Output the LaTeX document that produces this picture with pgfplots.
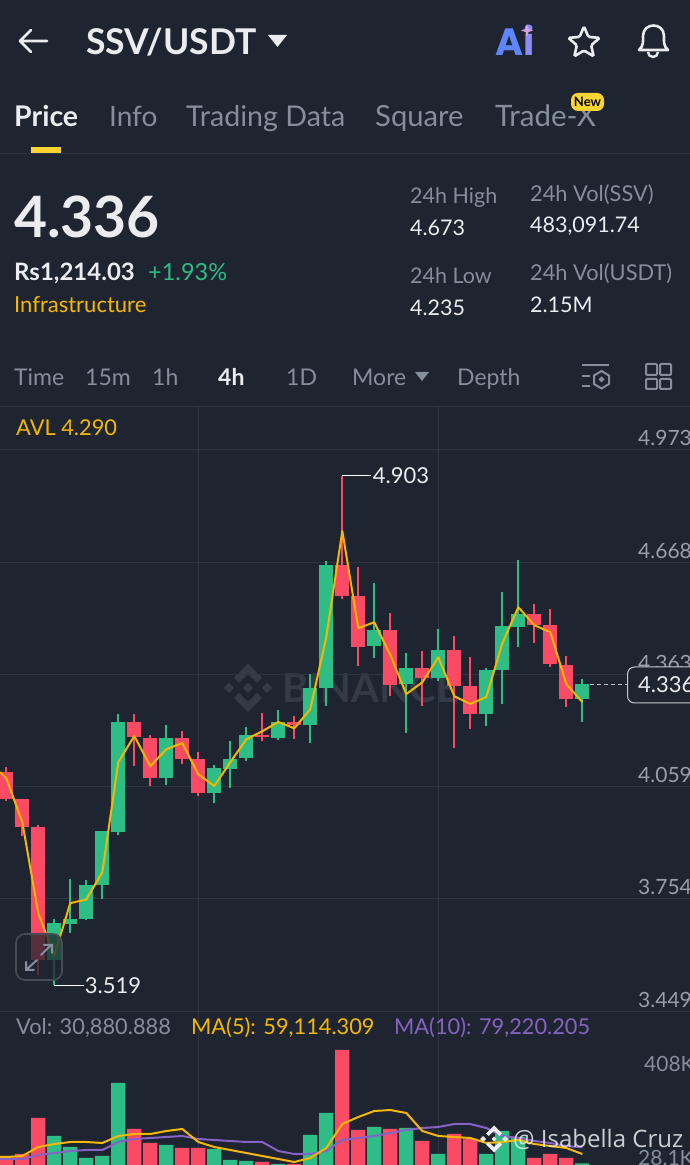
\documentclass[border=0pt]{standalone}
\usepackage{pgfplots}
\pgfplotsset{compat=1.18}
\usepackage{pgfplotstable}
\usepackage{fontspec}
\setmainfont{Lato}
\newfontfamily\wm{Open Sans}
\newfontfamily\aifont{Poppins}
\usetikzlibrary{shapes.geometric}
\definecolor{bg}{HTML}{1F2530}
\definecolor{gridc}{HTML}{2F3540}
\definecolor{up}{HTML}{2EBD85}
\definecolor{dn}{HTML}{FB4A63}
\definecolor{ma}{HTML}{F5B800}
\definecolor{pu}{HTML}{8662C4}
\definecolor{gr}{HTML}{848E9C}
\definecolor{wh}{HTML}{EAECEF}
\definecolor{wmk}{HTML}{353B46}
\definecolor{yel}{HTML}{FCD535}
\definecolor{spark}{HTML}{D9A0E8}
% columns: index, low, body bottom, body top, high
\pgfplotstableread{
i low bot top high
0 4.019 4.024 4.098 4.111
1 3.924 3.948 4.024 4.024
2 3.546 3.587 3.948 3.954
8 4.114 4.193 4.234 4.255
9 4.060 4.081 4.190 4.198
11 4.119 4.133 4.190 4.209
12 4.032 4.041 4.133 4.152
16 4.182 4.193 4.198 4.258
18 4.187 4.225 4.234 4.250
21 4.568 4.576 4.660 4.903
22 4.386 4.437 4.576 4.655
24 4.304 4.334 4.484 4.530
26 4.277 4.353 4.380 4.427
28 4.163 4.332 4.429 4.467
29 4.215 4.255 4.332 4.410
33 4.448 4.497 4.527 4.554
34 4.383 4.391 4.497 4.541
35 4.274 4.296 4.389 4.413
}\redc
\pgfplotstableread{
i low bot top high
3 3.519 3.587 3.687 3.698
4 3.660 3.684 3.698 3.807
5 3.695 3.698 3.791 3.804
6 3.752 3.791 3.937 3.937
7 3.926 3.935 4.234 4.255
10 4.062 4.081 4.190 4.225
13 4.013 4.041 4.109 4.117
14 4.054 4.106 4.133 4.182
15 4.128 4.136 4.198 4.220
17 4.185 4.190 4.234 4.266
19 4.177 4.225 4.326 4.364
20 4.277 4.326 4.660 4.671
23 4.408 4.440 4.484 4.611
25 4.204 4.337 4.380 4.421
27 4.345 4.353 4.429 4.486
30 4.223 4.255 4.375 4.380
31 4.283 4.375 4.495 4.587
32 4.437 4.492 4.527 4.674
36 4.234 4.296 4.336 4.350
}\greenc
\pgfplotstableread{
i v
-0.39 4.098
0 4.081
1 3.962
2 3.714
3 3.600
4 3.742
5 3.752
6 3.826
7 4.125
8 4.196
9 4.114
10 4.160
11 4.177
12 4.092
13 4.060
14 4.125
15 4.187
16 4.209
17 4.234
18 4.217
19 4.269
20 4.465
21 4.753
22 4.489
23 4.505
24 4.416
25 4.310
26 4.342
27 4.410
28 4.304
29 4.283
30 4.302
31 4.448
32 4.546
33 4.497
34 4.478
35 4.337
36 4.288
}\priceline
\pgfplotstableread{
i v
0 53.1
1 59.1
2 167.1
8 134.1
9 92.1
11 77.1
12 77.1
16 35.1
18 29.1
21 371.1
22 131.1
24 134.1
26 98.1
28 119.1
29 104.1
33 47.1
34 59.1
35 47.1
}\redv
\pgfplotstableread{
i v
3 113.1
4 80.1
5 47.1
6 53.1
7 272.1
10 86.1
13 74.1
14 41.1
15 38.1
17 29.1
19 116.1
20 182.1
23 140.1
25 137.1
27 59.1
30 59.1
31 128.1
32 110.1
36 30.88
}\greenv
\pgfplotstableread{
i five ten
-0.39 50.1 44.1
0 50.1 44.1
1 53.1 44.1
2 80.1 56.1
3 89.1 62.1
4 95.1 68.1
5 95.1 71.1
6 92.1 71.1
7 113.1 95.1
8 119.1 104.1
9 119.1 107.1
10 128.1 110.1
11 134.1 113.1
12 95.1 104.1
13 80.1 101.1
14 71.1 98.1
15 62.1 95.1
16 53.1 95.1
17 44.1 68.1
18 35.1 59.1
19 47.1 59.1
20 77.1 68.1
21 149.1 101.1
22 170.1 107.1
23 188.1 113.1
24 191.1 122.1
25 182.1 131.1
26 128.1 137.1
27 113.1 140.1
28 110.1 149.1
29 107.1 149.1
30 92.1 137.1
31 95.1 113.1
32 101.1 107.1
33 89.1 98.1
34 83.1 92.1
35 77.1 83.1
36 59.114 79.22
}\volma
\pgfplotsset{
  candle/.style n args={2}{draw=none,mark=none,forget plot,
    error bars/.cd,y dir=plus,y explicit,error mark=none,
    error bar style={line width=#2,draw=#1}},
  panel/.style={scale only axis,width=690pt,anchor=south west,
    xmin=-0.39375,xmax=42.73125,
    axis line style={draw=none},tick style={draw=none},
    xtick={12,27},xticklabels={},
    grid style={gridc,line width=1pt},
    xmajorgrids},
}
% helpers in reference pixels: x, baseline y, size, colour, text
\newcommand\T[5]{\node[anchor=base west,inner sep=0pt,text=#4,font=\fontsize{#3}{#3}\selectfont] at (#1,1165-#2) {#5};}
\newcommand\B[5]{\node[anchor=base west,inner sep=0pt,text=#4,font=\fontsize{#3}{#3}\selectfont\bfseries] at (#1,1165-#2) {#5};}
\begin{document}
\begin{tikzpicture}[x=1pt,y=1pt]
\path[use as bounding box] (0,0) rectangle (690,1165);
\clip (0,0) rectangle (690,1165);
\fill[bg] (0,0) rectangle (690,1165);
% watermark under the chart
\begin{scope}[shift={(248,477)},fill=wmk]
\fill (0,5)--(5,0)--(0,-5)--(-5,0)--cycle;
\fill (-24,0)--(-19,5)--(-14,0)--(-19,-5)--cycle;
\fill (24,0)--(19,5)--(14,0)--(19,-5)--cycle;
\fill (0,24)--(14,10)--(9,5)--(0,14)--(-9,5)--(-14,10)--cycle;
\fill (0,-24)--(14,-10)--(9,-5)--(0,-14)--(-9,-5)--(-14,-10)--cycle;
\end{scope}
\B{282}{703}{40}{wmk}{BINANCE}
% header
\draw[wh,line width=2.6pt,line cap=round,line join=round] (47,1165-41)--(20,1165-41) (31,1165-30)--(20,1165-41)--(31,1165-52);
\B{86}{55}{35.5}{wh}{SSV/USDT}
\fill[wh] (268,1165-35)--(287,1165-35)--(277.5,1165-47)--cycle;
\node[anchor=base west,inner sep=0pt,font=\aifont\fontsize{38}{38}\selectfont\bfseries] at (495,1165-56) {\textcolor[HTML]{5F86FF}{A}\textcolor[HTML]{8F8BF5}{i}};
\fill[spark] (527,1165-24)--(528.5,1165-29)--(533,1165-30.5)--(528.5,1165-32)--(527,1165-37)--(525.5,1165-32)--(521,1165-30.5)--(525.5,1165-29)--cycle;
\node[star,star points=5,star point ratio=2.2,draw=wh,line width=2.6pt,rounded corners=1.5pt,minimum size=33pt,inner sep=0pt] at (584,1165-43) {};
\draw[wh,line width=2.6pt,line join=round,line cap=round] (639,1165-50) .. controls (644,1165-46) and (643,1165-40) .. (643,1165-36) .. controls (643,1165-22) and (664,1165-22) .. (664,1165-36) .. controls (664,1165-40) and (663,1165-46) .. (668,1165-50) -- cycle;
\draw[wh,line width=2.4pt] (648,1165-52) arc[start angle=180,end angle=360,radius=5];
% tabs
\B{14}{127}{28.5}{wh}{Price}
\T{109}{127}{28}{gr}{Info}
\T{186}{127}{28.6}{gr}{Trading Data}
\T{375}{127}{29.2}{gr}{Square}
\T{495}{127}{29.5}{gr}{Trade-X}
\fill[yel,rounded corners=7pt] (571,1165-93) rectangle (604,1165-111);
\node[text=black,inner sep=0pt,font=\fontsize{13}{13}\selectfont\bfseries] at (587.5,1165-102) {New};
\fill[yel] (31,1165-147) rectangle (61,1165-153);
\draw[gridc,line width=1pt] (0,1165-153.5)--(690,1165-153.5);
% quote block
\B{14}{238}{57}{wh}{4.336}
\B{14}{281}{24}{wh}{Rs1,214.03}
\T{148}{281}{23.5}{up}{+1.93\%}
\T{14}{313}{22}{ma}{Infrastructure}
\T{410}{204}{21.5}{gr}{24h High}
\T{410}{236}{21.5}{wh}{4.673}
\T{530}{202}{21.8}{gr}{24h Vol(SSV)}
\T{530}{233}{21.5}{wh}{483,091.74}
\T{410}{284}{21.5}{gr}{24h Low}
\T{410}{316}{21.5}{wh}{4.235}
\T{530}{281}{21.8}{gr}{24h Vol(USDT)}
\T{530}{313}{21.5}{wh}{2.15M}
% interval bar
\T{14}{386}{23}{gr}{Time}
\T{85}{386}{23}{gr}{15m}
\T{152}{386}{23}{gr}{1h}
\B{218}{386}{23}{wh}{4h}
\T{286}{386}{23}{gr}{1D}
\T{352}{386}{23}{gr}{More}
\fill[gr] (415,1165-372)--(429,1165-372)--(422,1165-381)--cycle;
\T{457}{386}{23}{gr}{Depth}
\draw[gr,line width=2pt] (582,1165-365)--(609,1165-365) (582,1165-376)--(590,1165-376) (582,1165-386)--(590,1165-386);
\draw[gr,line width=2pt] (601.5,1165-371)--(609,1165-375.5)--(609,1165-384)--(601.5,1165-388.5)--(594,1165-384)--(594,1165-375.5)--cycle;
\fill[gr] (601.5,1165-376.5)--(604.5,1165-379.5)--(601.5,1165-382.5)--(598.5,1165-379.5)--cycle;
\draw[gr,line width=2pt,rounded corners=1pt] (646,1165-364) rectangle (657,1165-375) (660,1165-364) rectangle (671,1165-375) (646,1165-379) rectangle (657,1165-389) (660,1165-379) rectangle (671,1165-389);
\draw[gridc,line width=1pt] (0,1165-407)--(690,1165-407);
\draw[gridc,line width=1pt] (0,1165-1012)--(690,1165-1012);
\T{16}{436}{21.8}{ma}{AVL 4.290}
% price panel
\begin{axis}[panel,at={(0pt,153pt)},height=605pt,ymin=3.4463,ymax=5.0898,
  ytick={3.449,3.754,4.059,4.363,4.668,4.973},
  yticklabels={3.449,3.754,4.059,4.363,4.668,4.973},
  ymajorgrids,yticklabel pos=right,
  yticklabel style={anchor=base west,inner sep=0pt,xshift=-52pt,yshift=4pt,text=gr!85!white,font=\fontsize{21}{21}\selectfont}]
\addplot[candle={dn}{2pt}] table[x=i,y=low,y error plus expr=\thisrow{high}-\thisrow{low}]{\redc};
\addplot[candle={dn}{14.3pt}] table[x=i,y=bot,y error plus expr=\thisrow{top}-\thisrow{bot}]{\redc};
\addplot[candle={up}{2pt}] table[x=i,y=low,y error plus expr=\thisrow{high}-\thisrow{low}]{\greenc};
\addplot[candle={up}{14.3pt}] table[x=i,y=bot,y error plus expr=\thisrow{top}-\thisrow{bot}]{\greenc};
\addplot[ma,line width=2pt,line join=round,no markers] table[x=i,y=v]{\priceline};
\draw[white,line width=1pt] (axis cs:21,4.903)--(axis cs:22.8,4.903);
\node[anchor=west,inner sep=0pt,text=wh,font=\fontsize{22}{22}\selectfont] at (axis cs:22.9,4.903) {4.903};
\draw[white,line width=1pt] (axis cs:3,3.519)--(axis cs:4.85,3.519);
\node[anchor=west,inner sep=0pt,text=wh,font=\fontsize{22}{22}\selectfont] at (axis cs:4.9,3.519) {3.519};
\draw[white!70!bg,line width=1pt,dash pattern=on 4pt off 3pt] (axis cs:36.48,4.336)--(axis cs:38.8,4.336);
\end{axis}
% current price tag
\draw[white!75!bg,line width=1pt,fill=bg,rounded corners=7pt] (627.5,1165-667)--(700,1165-667)--(700,1165-703)--(627.5,1165-703)--cycle;
\T{638}{693}{22}{wh}{4.336}
% expand button
\draw[white!18!bg,line width=1.6pt,fill=bg,fill opacity=0.75,rounded corners=9pt] (16,1165-934) rectangle (62,1165-980);
\draw[gr,line width=2pt,line cap=round] (41,1165-955)--(51,1165-945) (44,1165-945)--(52,1165-945)--(52,1165-953)
 (37,1165-960)--(27,1165-969) (26,1165-962)--(26,1165-970)--(34,1165-970);
% volume panel
\begin{axis}[panel,at={(0pt,0pt)},height=153pt,ymin=26.1,ymax=485.1,ytick=\empty]
\addplot[ybar,bar width=14.3pt,bar shift=0pt,draw=none,fill=dn,forget plot] table[x=i,y=v]{\redv};
\addplot[ybar,bar width=14.3pt,bar shift=0pt,draw=none,fill=up,forget plot] table[x=i,y=v]{\greenv};
\addplot[pu,line width=2pt,line join=round,no markers] table[x=i,y=ten]{\volma};
\addplot[ma,line width=2pt,line join=round,no markers] table[x=i,y=five]{\volma};
\end{axis}
% panel labels
\T{16}{1035}{21.8}{gr}{Vol: 30,880.888}
\T{191}{1035}{21.8}{ma}{MA(5): 59,114.309}
\T{394}{1035}{21.8}{pu}{MA(10): 79,220.205}
\T{644}{1072}{21}{gr}{408K}
\T{638}{1165.5}{21}{gr}{28.1K}
% author watermark
\begin{scope}[shift={(494,1165-1139)},fill=wh]
\fill (0,2.5)--(2.5,0)--(0,-2.5)--(-2.5,0)--cycle;
\fill (-14,0)--(-11,3)--(-8,0)--(-11,-3)--cycle;
\fill (14,0)--(11,3)--(8,0)--(11,-3)--cycle;
\fill (0,13.5)--(8,5.5)--(5.5,3)--(0,8)--(-5.5,3)--(-8,5.5)--cycle;
\fill (0,-13.5)--(8,-5.5)--(5.5,-3)--(0,-8)--(-5.5,-3)--(-8,-5.5)--cycle;
\end{scope}
\node[anchor=base west,inner sep=0pt,text=wh,text opacity=0.85,font=\wm\fontsize{24}{24}\selectfont] at (513,1165-1148) {@ Isabella Cruz};
\end{tikzpicture}
\end{document}
